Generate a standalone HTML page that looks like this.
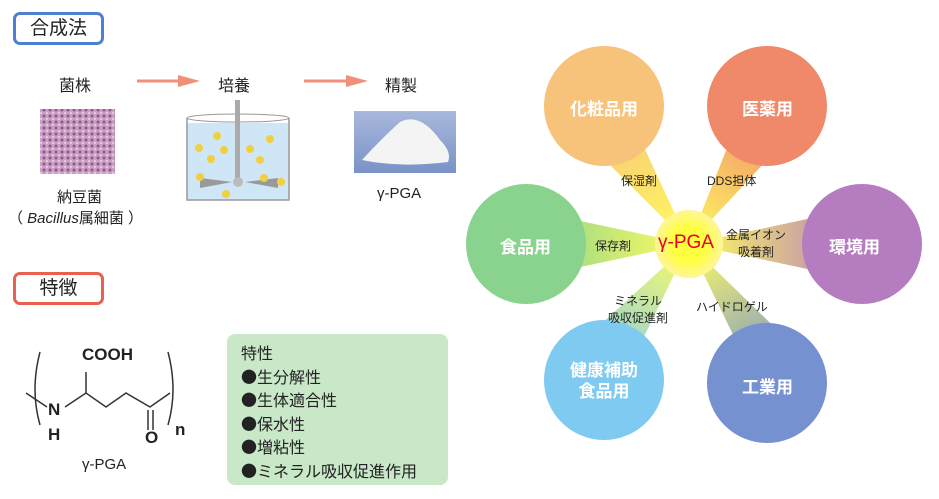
<!DOCTYPE html>
<html><head><meta charset="utf-8"><style>
body{margin:0;width:939px;height:499px;background:#fff;overflow:hidden;font-family:"Liberation Sans","Noto Sans CJK JP",sans-serif;color:#222;position:relative}
.t{position:absolute;white-space:nowrap}
.box{position:absolute;border-radius:7px;border:3px solid;background:#fff;font-size:19px;text-align:center;line-height:27px}
.b{font-family:"Noto Sans CJK JP",sans-serif}
.c{position:absolute;white-space:nowrap;font-size:17px;color:#fff;font-weight:bold}
</style></head><body>
<div class="box" style="left:13px;top:12px;width:85px;height:27px;border-color:#4f7fd0">合成法</div>
<div class="box" style="left:13px;top:272px;width:85px;height:27px;border-color:#e8604f">特徴</div>
<div class="t" style="left:59px;top:72px;font-size:16px">菌株</div>
<div class="t" style="left:218px;top:72px;font-size:16px">培養</div>
<div class="t" style="left:385px;top:72px;font-size:16px">精製</div>
<svg width="939" height="499" style="position:absolute;left:0;top:0">
<defs>
<pattern id="bac" width="6" height="6" patternUnits="userSpaceOnUse"><rect width="6" height="6" fill="#c9a0c4"/><circle cx="2" cy="2" r="1.5" fill="#94548f"/><circle cx="5" cy="5" r="1" fill="#e8d4e4"/></pattern>
<linearGradient id="pw" x1="0" y1="0" x2="0" y2="1"><stop offset="0" stop-color="#a8b8dc"/><stop offset="1" stop-color="#7a92c6"/></linearGradient>
<radialGradient id="cg"><stop offset="0.5" stop-color="#ffff40"/><stop offset="1" stop-color="#fff59a"/></radialGradient>
<linearGradient id="g1" gradientUnits="userSpaceOnUse" x1="689" y1="244" x2="604" y2="106"><stop offset="0" stop-color="#fffc60"/><stop offset="1" stop-color="#f7c27a"/></linearGradient>
<linearGradient id="g2" gradientUnits="userSpaceOnUse" x1="689" y1="244" x2="767" y2="106"><stop offset="0" stop-color="#fffc60"/><stop offset="1" stop-color="#f0886a"/></linearGradient>
<linearGradient id="g3" gradientUnits="userSpaceOnUse" x1="689" y1="244" x2="862" y2="244"><stop offset="0" stop-color="#fffc60"/><stop offset="1" stop-color="#b57dbf"/></linearGradient>
<linearGradient id="g4" gradientUnits="userSpaceOnUse" x1="689" y1="244" x2="526" y2="244"><stop offset="0" stop-color="#fffc60"/><stop offset="1" stop-color="#8ad38e"/></linearGradient>
<linearGradient id="g5" gradientUnits="userSpaceOnUse" x1="689" y1="244" x2="604" y2="380"><stop offset="0" stop-color="#fffc60"/><stop offset="1" stop-color="#7fcaf1"/></linearGradient>
<linearGradient id="g6" gradientUnits="userSpaceOnUse" x1="689" y1="244" x2="767" y2="383"><stop offset="0" stop-color="#fffc60"/><stop offset="1" stop-color="#7591cf"/></linearGradient>
</defs>
<path d="M137 81H180" stroke="#f0907a" stroke-width="3"/><path d="M178 75L200 81L178 87Z" fill="#f0907a"/>
<path d="M304 81H348" stroke="#f0907a" stroke-width="3"/><path d="M346 75L368 81L346 87Z" fill="#f0907a"/>
<rect x="40" y="109" width="75" height="65" fill="url(#bac)"/>
<rect x="187" y="123" width="102" height="77" fill="#cfe6f6"/>
<ellipse cx="238" cy="118" rx="51" ry="4" fill="none" stroke="#999"/>
<path d="M187 118V200H289V118" fill="none" stroke="#999" stroke-width="1.5"/>
<rect x="235" y="100" width="5" height="82" fill="#aaa"/>
<path d="M200 178L232 182L200 188ZM245 182L278 178L278 188Z" fill="#999"/>
<circle cx="238" cy="182" r="5" fill="#bbb"/>
<g fill="#f2cf40"><circle cx="217" cy="136" r="4"/><circle cx="199" cy="148" r="4"/><circle cx="224" cy="150" r="4"/><circle cx="211" cy="159" r="4"/><circle cx="200" cy="177" r="4"/><circle cx="250" cy="149" r="4"/><circle cx="270" cy="139" r="4"/><circle cx="260" cy="160" r="4"/><circle cx="264" cy="178" r="4"/><circle cx="281" cy="182" r="4"/><circle cx="226" cy="194" r="4"/></g>
<rect x="354" y="111" width="102" height="62" fill="url(#pw)"/>
<path d="M362 160Q380 140 400 122Q420 112 440 140Q452 152 448 162Q400 168 362 160Z" fill="#f4f4f4"/>
<polygon points="689,244 580,135 635,128" fill="url(#g1)"/>
<polygon points="689,244 735,128 790,135" fill="url(#g2)"/>
<polygon points="689,244 812,218 812,270" fill="url(#g3)"/>
<polygon points="689,244 566,218 566,270" fill="url(#g4)"/>
<polygon points="689,244 578,345 640,345" fill="url(#g5)"/>
<polygon points="689,244 738,345 798,350" fill="url(#g6)"/>
<circle cx="604" cy="106" r="60" fill="#f7c27a"/>
<circle cx="767" cy="106" r="60" fill="#f0886a"/>
<circle cx="862" cy="244" r="60" fill="#b57dbf"/>
<circle cx="526" cy="244" r="60" fill="#8ad38e"/>
<circle cx="604" cy="380" r="60" fill="#7fcaf1"/>
<circle cx="767" cy="383" r="60" fill="#7591cf"/>
<circle cx="689" cy="244" r="34" fill="url(#cg)"/>
<g stroke="#333" stroke-width="1.5" fill="none">
<path d="M40 352Q30 390 40 425"/><path d="M168 352Q178 390 168 425"/>
<path d="M26 393L47 407"/><path d="M65 407L86 393L106 407L126 393L150 407L170 393"/>
<path d="M86 393V372"/><path d="M148 410V430M153 410V430"/>
</g>
</svg>
<div class="t" style="left:57px;top:186px;font-size:15px">納豆菌</div>
<div class="t" style="left:8px;top:207px;font-size:15px">（ <i>Bacillus</i>属細菌 ）</div>
<div class="t" style="left:377px;top:185px;font-size:15px">γ-PGA</div>
<div class="t" style="left:82px;top:345px;font-size:17px;font-weight:bold">COOH</div>
<div class="t" style="left:48px;top:400px;font-size:17px;font-weight:bold">N</div>
<div class="t" style="left:48px;top:425px;font-size:17px;font-weight:bold">H</div>
<div class="t" style="left:145px;top:428px;font-size:17px;font-weight:bold">O</div>
<div class="t" style="left:175px;top:420px;font-size:17px;font-weight:bold">n</div>
<div class="t" style="left:82px;top:456px;font-size:15px">γ-PGA</div>
<div style="position:absolute;left:227px;top:334px;width:221px;height:151px;background:#c8e8c8;border-radius:8px"></div>
<div class="t" style="left:241px;top:344px;font-size:16px;line-height:21.5px">特性<br><span class="b">●</span>生分解性<br><span class="b">●</span>生体適合性<br><span class="b">●</span>保水性<br><span class="b">●</span>増粘性<br><span class="b">●</span>ミネラル吸収促進作用</div>
<div class="c" style="left:570px;top:95px">化粧品用</div>
<div class="c" style="left:742px;top:95px">医薬用</div>
<div class="c" style="left:829px;top:233px">環境用</div>
<div class="c" style="left:500px;top:233px">食品用</div>
<div class="c" style="left:570px;top:360px;text-align:center;line-height:21px">健康補助<br>食品用</div>
<div class="c" style="left:742px;top:373px">工業用</div>
<div class="t" style="left:658px;top:232px;font-size:19px;color:#e8002a">γ-PGA</div>
<div class="t" style="left:621px;top:172px;font-size:12px">保湿剤</div>
<div class="t" style="left:707px;top:172px;font-size:12px">DDS担体</div>
<div class="t" style="left:595px;top:237px;font-size:12px">保存剤</div>
<div class="t" style="left:726px;top:227px;font-size:12px;text-align:center;line-height:17px">金属イオン<br>吸着剤</div>
<div class="t" style="left:608px;top:293px;font-size:12px;text-align:center;line-height:17px">ミネラル<br>吸収促進剤</div>
<div class="t" style="left:696px;top:298px;font-size:12px">ハイドロゲル</div>
</body></html>
